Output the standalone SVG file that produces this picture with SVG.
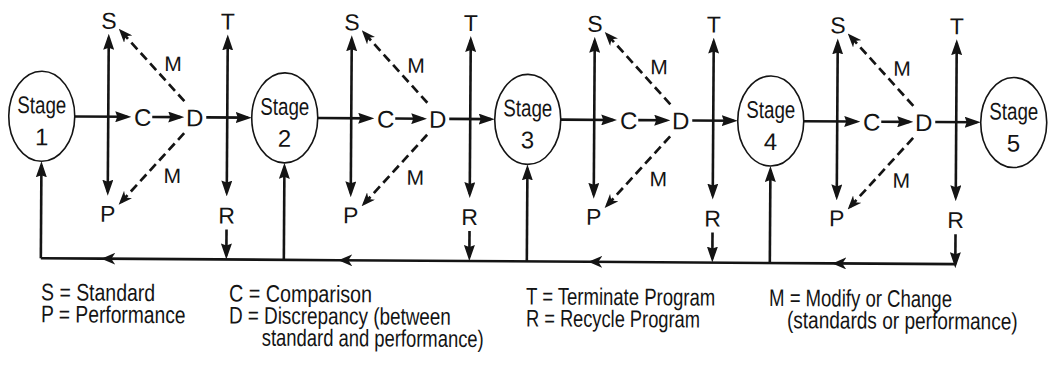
<svg xmlns="http://www.w3.org/2000/svg" width="1048" height="371" viewBox="0 0 1048 371">
  <style>
    text { font-family: "Liberation Sans", Arial, Helvetica, sans-serif; fill: #141414; }
    .stg { font-size: 24px; text-anchor: middle; }
    .num { font-size: 24px; text-anchor: middle; }
    .lt { font-size: 23px; text-anchor: middle; }
    .m { font-size: 21px; text-anchor: middle; }
    .leg { font-size: 24px; }
    .ln { stroke: #141414; stroke-width: 2.6; fill: none; }
    .dash { stroke: #141414; stroke-width: 2.7; fill: none; stroke-dasharray: 9 5; }
    .node ellipse { fill: #fff; stroke: #141414; stroke-width: 1.6; }
    .ar { marker-end: url(#ah); }
    .ar2 { marker-start: url(#ah); marker-end: url(#ah); }
    .dar { marker-end: url(#bh); }
  </style>
  <defs>
    <marker id="ah" viewBox="0 0 16 11" refX="12" refY="5.5" markerWidth="16" markerHeight="11" markerUnits="userSpaceOnUse" orient="auto-start-reverse">
      <path d="M0,0 L16,5.5 L0,11 L2,5.5 z" fill="#141414"/>
    </marker>
    <marker id="bh" viewBox="0 0 14 11" refX="11" refY="5.5" markerWidth="14" markerHeight="11" markerUnits="userSpaceOnUse" orient="auto">
      <path d="M0,0 L14,5.5 L0,11 L4,5.5 z" fill="#141414"/>
    </marker>
    <marker id="fb" viewBox="0 0 14 12" refX="14" refY="6" markerWidth="14" markerHeight="12" markerUnits="userSpaceOnUse" orient="auto">
      <path d="M0,0 L14,6 L0,12 L4,6 z" fill="#141414"/>
    </marker>
  </defs>

  <g transform="rotate(0.37)">
    <!-- connectors -->
    <g id="connectors">
      <!-- stage 1 cycle -->
      <path class="ln ar" d="M75.5,116 H128"/>
      <path class="ln ar" d="M153,116 H181"/>
      <path class="ln ar" d="M207,116 H248.5"/>
      <path class="ln ar2" d="M109,37 V191"/>
      <path class="ln ar2" d="M228,37 V191"/>
      <path class="dash dar" d="M185,100 L121,30.2"/>
      <path class="dash dar" d="M185,132 L122,201.8"/>
      <path class="ln ar" d="M228,228 V254"/>
      <!-- stage 2 cycle -->
      <path class="ln ar" d="M318.5,116 H371"/>
      <path class="ln ar" d="M396,116 H424"/>
      <path class="ln ar" d="M450,116 H491.5"/>
      <path class="ln ar2" d="M352,37 V191"/>
      <path class="ln ar2" d="M471,37 V191"/>
      <path class="dash dar" d="M428,100 L364,30.2"/>
      <path class="dash dar" d="M428,132 L365,201.8"/>
      <path class="ln ar" d="M471,228 V254"/>
      <!-- stage 3 cycle -->
      <path class="ln ar" d="M561.5,116 H614"/>
      <path class="ln ar" d="M639,116 H667"/>
      <path class="ln ar" d="M693,116 H734.5"/>
      <path class="ln ar2" d="M595,37 V191"/>
      <path class="ln ar2" d="M714,37 V191"/>
      <path class="dash dar" d="M671,100 L607,30.2"/>
      <path class="dash dar" d="M671,132 L608,201.8"/>
      <path class="ln ar" d="M714,228 V254"/>
      <!-- stage 4 cycle -->
      <path class="ln ar" d="M804.5,116 H857"/>
      <path class="ln ar" d="M882,116 H910"/>
      <path class="ln ar" d="M936,116 H977.5"/>
      <path class="ln ar2" d="M838,37 V191"/>
      <path class="ln ar2" d="M957,37 V191"/>
      <path class="dash dar" d="M914,100 L850,30.2"/>
      <path class="dash dar" d="M914,132 L851,201.8"/>
      <path class="ln ar" d="M957,228 V258"/>
      <!-- feedback line back to each stage -->
      <path class="ln" d="M957,258 H834 H590 H340 H103 H42.5" marker-mid="url(#fb)"/>
      <path class="ln ar" d="M42.5,258 V165"/>
      <path class="ln ar" d="M285.5,258 V165"/>
      <path class="ln ar" d="M528.5,258 V165"/>
      <path class="ln ar" d="M771.5,258 V165"/>
    </g>

    <!-- stages -->
    <g id="stage1" class="node">
      <ellipse cx="42.5" cy="116" rx="33" ry="45"/>
      <text class="stg" transform="translate(42.5,113) scale(0.78,1)">Stage</text>
      <text x="42.5" y="145" class="num">1</text>
    </g>
    <g id="stage2" class="node">
      <ellipse cx="285.5" cy="116" rx="33" ry="45"/>
      <text class="stg" transform="translate(285.5,113) scale(0.78,1)">Stage</text>
      <text x="285.5" y="145" class="num">2</text>
    </g>
    <g id="stage3" class="node">
      <ellipse cx="528.5" cy="116" rx="33" ry="45"/>
      <text class="stg" transform="translate(528.5,113) scale(0.78,1)">Stage</text>
      <text x="528.5" y="145" class="num">3</text>
    </g>
    <g id="stage4" class="node">
      <ellipse cx="771.5" cy="116" rx="33" ry="45"/>
      <text class="stg" transform="translate(771.5,113) scale(0.78,1)">Stage</text>
      <text x="771.5" y="145" class="num">4</text>
    </g>
    <g id="stage5" class="node">
      <ellipse cx="1014.5" cy="116" rx="33" ry="45"/>
      <text class="stg" transform="translate(1014.5,113) scale(0.78,1)">Stage</text>
      <text x="1014.5" y="145" class="num">5</text>
    </g>

    <!-- comparison / discrepancy points and their letters -->
    <g id="cycle1">
      <text x="109" y="28" class="lt">S</text>
      <text x="109" y="221" class="lt">P</text>
      <text x="228" y="28" class="lt">T</text>
      <text x="228" y="222" class="lt">R</text>
      <text x="143.5" y="125" class="num">C</text>
      <text x="195.5" y="125" class="num">D</text>
      <text x="173.5" y="70" class="m">M</text>
      <text x="173.5" y="182" class="m">M</text>
    </g>
    <g id="cycle2">
      <text x="352" y="28" class="lt">S</text>
      <text x="352" y="221" class="lt">P</text>
      <text x="471" y="28" class="lt">T</text>
      <text x="471" y="222" class="lt">R</text>
      <text x="386.5" y="125" class="num">C</text>
      <text x="438.5" y="125" class="num">D</text>
      <text x="416.5" y="70" class="m">M</text>
      <text x="416.5" y="182" class="m">M</text>
    </g>
    <g id="cycle3">
      <text x="595" y="28" class="lt">S</text>
      <text x="595" y="221" class="lt">P</text>
      <text x="714" y="28" class="lt">T</text>
      <text x="714" y="222" class="lt">R</text>
      <text x="629.5" y="125" class="num">C</text>
      <text x="681.5" y="125" class="num">D</text>
      <text x="659.5" y="70" class="m">M</text>
      <text x="659.5" y="182" class="m">M</text>
    </g>
    <g id="cycle4">
      <text x="838" y="28" class="lt">S</text>
      <text x="838" y="221" class="lt">P</text>
      <text x="957" y="28" class="lt">T</text>
      <text x="957" y="222" class="lt">R</text>
      <text x="872.5" y="125" class="num">C</text>
      <text x="924.5" y="125" class="num">D</text>
      <text x="902.5" y="70" class="m">M</text>
      <text x="902.5" y="182" class="m">M</text>
    </g>

    <!-- key, set in a narrow face -->
    <g id="legend">
      <text class="leg" transform="translate(43,300) scale(0.81,1)">S = Standard</text>
      <text class="leg" transform="translate(43,322) scale(0.802,1)">P = Performance</text>
      <text class="leg" transform="translate(231,300) scale(0.822,1)">C = Comparison</text>
      <text class="leg" transform="translate(231,322) scale(0.787,1)">D = Discrepancy (between</text>
      <text class="leg" transform="translate(264,344) scale(0.767,1)">standard and performance)</text>
      <text class="leg" transform="translate(528,301) scale(0.772,1)">T = Terminate Program</text>
      <text class="leg" transform="translate(528,323) scale(0.761,1)">R = Recycle Program</text>
      <text class="leg" transform="translate(771,301) scale(0.773,1)">M = Modify or Change</text>
      <text class="leg" transform="translate(789,323) scale(0.794,1)">(standards or performance)</text>
    </g>
  </g>
</svg>
